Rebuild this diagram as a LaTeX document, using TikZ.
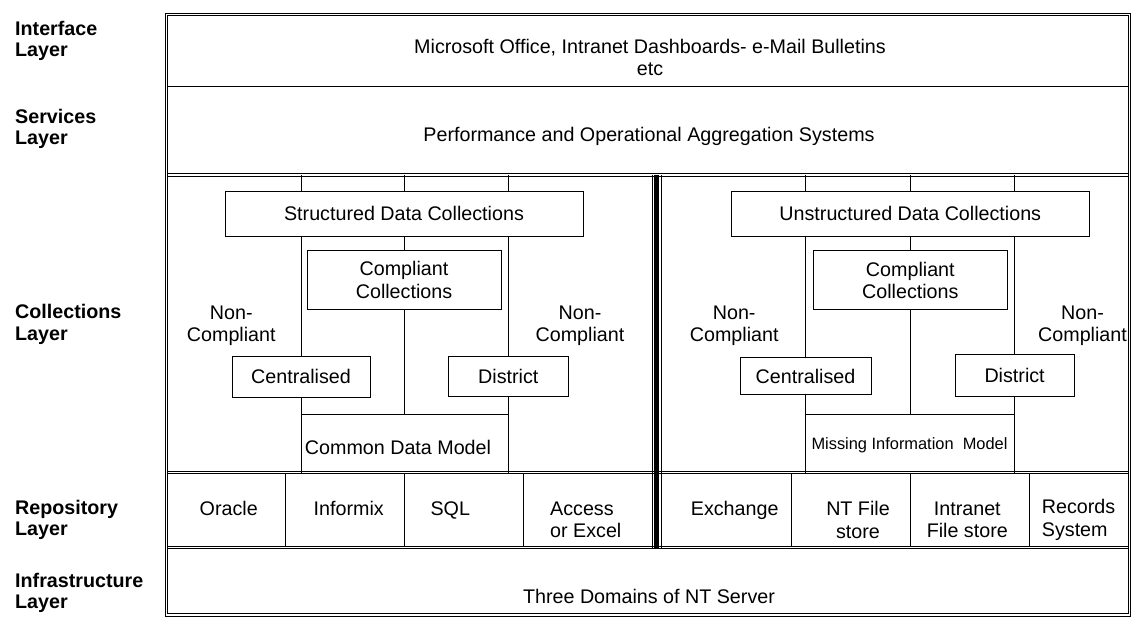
\documentclass[tikz,border=0pt]{standalone}
\usepackage{fontspec}
\setmainfont{Liberation Sans}
\usetikzlibrary{positioning}

\tikzset{
    box/.style = {draw, line width = 0.9pt, inner sep = 0pt, align = center},
    txt/.style = {inner sep = 0pt, align = center},
    layer/.style = {inner sep = 0pt, align = left, anchor = west, font = \bfseries\fontsize{19.7}{21.5}\selectfont},
    dbl/.style = {double, double distance = 1.8pt, line width = 0.9pt},
    link/.style = {line width = 0.9pt}
}

\begin{document}
\begin{tikzpicture}[x = 1pt, y = -1pt, font = \fontsize{19.7}{22.5}\selectfont]
    \useasboundingbox (0,0) rectangle (1133,628);

    % frame and rows
    \draw[dbl] (166.5,14.5) rectangle (1129.5,615);
    \coordinate (colltop) at (0,175);
    \coordinate (collbot) at (0,472.5);
    \coordinate (join) at (0,414);
    \draw[dbl] (168.3,87.7) -- (1127.7,87.7);
    \draw[dbl] (168.3,175) -- (1127.7,175);
    \draw[dbl] (168.3,472.5) -- (1127.7,472.5);
    \draw[dbl] (168.3,547.5) -- (1127.7,547.5);

    % layer names
    \node[layer] (lint) at (15,41) {Interface\\Layer};
    \node[layer] (lser) at (15,129) {Services\\Layer};
    \node[layer] (lcol) at (15,324.5) {Collections\\Layer};
    \node[layer] (lrep) at (15,520) {Repository\\Layer};
    \node[layer] (linf) at (15,593) {Infrastructure\\Layer};

    \node[txt] (office) at (650,57.5) {Microsoft Office, Intranet Dashboards- e-Mail Bulletins\\etc};
    \node[txt, anchor = base] (perf) at (649,142) {Performance and Operational Aggregation Systems};
    \node[txt, anchor = base] (nt) at (649,603) {Three Domains of NT Server};

    % structured side
    \node[box, minimum width = 358, minimum height = 45] (sdc) at (404,213.5) {Structured Data Collections};
    \node[box, minimum width = 194, minimum height = 59] (cc) at (404,280) {Compliant\\Collections};
    \node[box, minimum width = 138, minimum height = 41] (cen) at (301,376.5) {Centralised};
    \node[box, minimum width = 120, minimum height = 40] (dis) at (508.3,376.7) {District};
    \node[txt] (ncl) at (231.3,326) {Non-\\Compliant};
    \node[txt] (ncr) at (580,326) {Non-\\Compliant};
    \node[txt] (cdm) at (398,447) {Common Data Model};

    \draw[link] (cen.north |- colltop) -- (cen.north |- sdc.north);
    \draw[link] (cc.north |- colltop) -- (cc.north |- sdc.north);
    \draw[link] (dis.north |- colltop) -- (dis.north |- sdc.north);
    \draw[link] (cen.north |- sdc.south) -- (cen.north);
    \draw[link] (cc.north |- sdc.south) -- (cc.north);
    \draw[link] (dis.north |- sdc.south) -- (dis.north);
    \draw[link] (cc.south) -- (cc.south |- join);
    \draw[link] (cen.south |- join) -- (dis.south |- join);
    \draw[link] (cen.south) -- (cen.south |- collbot);
    \draw[link] (dis.south) -- (dis.south |- collbot);

    % unstructured side
    \node[box, minimum width = 358, minimum height = 45] (udc) at (910.3,213.5) {Unstructured Data Collections};
    \node[box, minimum width = 194, minimum height = 59] (cc2) at (910.3,280.3) {Compliant\\Collections};
    \node[box, minimum width = 131, minimum height = 37] (cen2) at (805.5,376) {Centralised};
    \node[box, minimum width = 119, minimum height = 42] (dis2) at (1014.6,375.8) {District};
    \node[txt] (ncl2) at (734.2,326) {Non-\\Compliant};
    \node[txt] (ncr2) at (1082.5,326) {Non-\\Compliant};
    \node[txt, font = \fontsize{16.4}{19}\selectfont] (mim) at (909.5,445) {Missing Information\ \ Model};

    \draw[link] (cen2.north |- colltop) -- (cen2.north |- udc.north);
    \draw[link] (cc2.north |- colltop) -- (cc2.north |- udc.north);
    \draw[link] (dis2.north |- colltop) -- (dis2.north |- udc.north);
    \draw[link] (cen2.north |- udc.south) -- (cen2.north);
    \draw[link] (cc2.north |- udc.south) -- (cc2.north);
    \draw[link] (dis2.north |- udc.south) -- (dis2.north);
    \draw[link] (cc2.south) -- (cc2.south |- join);
    \draw[link] (cen2.south |- join) -- (dis2.south |- join);
    \draw[link] (cen2.south) -- (cen2.south |- collbot);
    \draw[link] (dis2.south) -- (dis2.south |- collbot);

    % repositories
    \foreach \x in {285,404.3,523.3,791.7,910,1029}
        \draw[link] (\x,474) -- (\x,546);
    \node[txt, anchor = base] (ora) at (228.7,515.5) {Oracle};
    \node[txt, anchor = base] (inf) at (348.7,515.5) {Informix};
    \node[txt, anchor = base] (sql) at (450.3,515.5) {SQL};
    \node[txt, anchor = west, align = left] (acc) at (550,520) {Access\\or Excel};
    \node[txt, anchor = base] (exc) at (734.7,515.5) {Exchange};
    \node[txt] (ntf) at (858,520) {NT File\\store};
    \node[txt] (inf2) at (967.3,520) {Intranet\\File store};
    \node[txt, anchor = west, align = left] (rec) at (1041.7,520) {Records\\System};

    % divider
    \draw[line width = 0.8pt] (652.5,175) -- (652.5,547.5);
    \draw[line width = 5pt] (656.5,175) -- (656.5,547.5);
    \draw[line width = 0.8pt] (660.9,175) -- (660.9,547.5);
\end{tikzpicture}
\end{document}
